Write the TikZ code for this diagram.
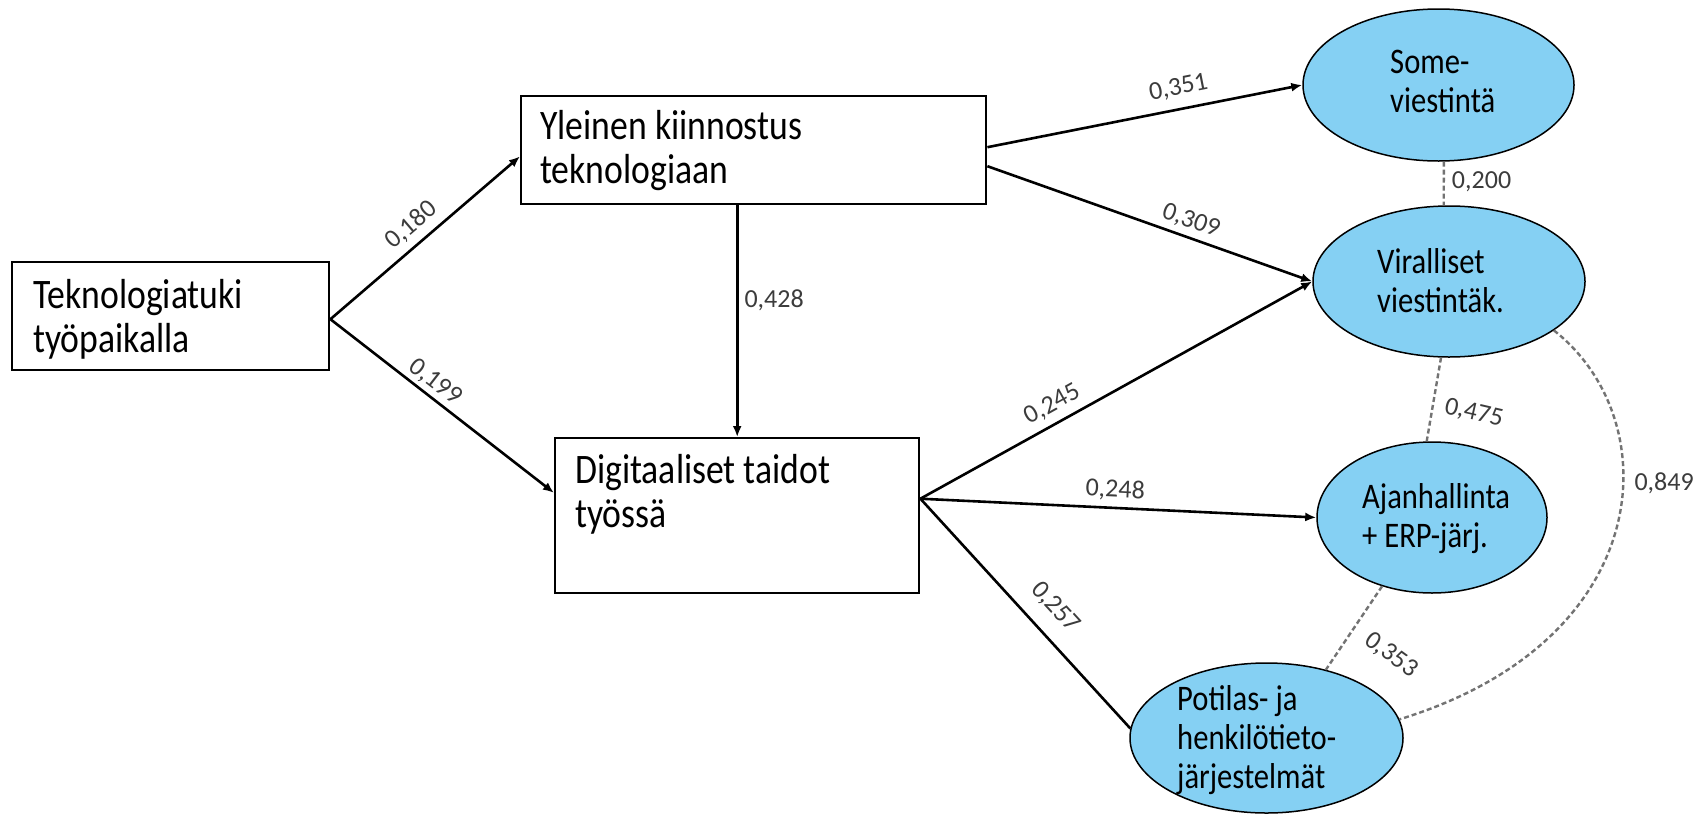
\documentclass[tikz,border=0pt]{standalone}
\usepackage{fontspec}
\usetikzlibrary{shapes.geometric,arrows.meta,calc}
\newfontfamily\nodefont[FakeStretch=0.85]{Carlito}
\newfontfamily\labfont{Carlito}
\definecolor{ellfill}{RGB}{133,208,243}
\definecolor{labgray}{RGB}{60,60,60}
\definecolor{dashgray}{RGB}{115,115,115}
\begin{document}
\begin{tikzpicture}[x=1pt,y=-1pt,
  box/.style={draw, line width=2.4pt, rectangle, inner sep=0pt, anchor=north west},
  ell/.style={draw, line width=1.5pt, ellipse, fill=ellfill, inner sep=0pt},
  btext/.style={anchor=base west, inner sep=0pt, align=left, font=\nodefont\fontsize{42}{44}\selectfont},
  etext/.style={anchor=base west, inner sep=0pt, align=left, font=\nodefont\fontsize{36}{39}\selectfont},
  conn/.style={line width=2.6pt, -{Latex[length=11pt,width=9pt]}},
  plainconn/.style={line width=2.6pt},
  corr/.style={dashgray, line width=2.4pt, dash pattern=on 5pt off 3pt},
  lab/.style={font=\labfont\fontsize{26}{28}\selectfont, text=labgray, inner sep=1pt},
]
\useasboundingbox (0,0) rectangle (1704,814);
\fill[white] (0,0) rectangle (1704,814);

% boxes
\node[box, minimum width=317pt, minimum height=108pt] (tek) at (11,261) {};
\node[box, minimum width=465pt, minimum height=108pt] (yle) at (520,95) {};
\node[box, minimum width=364pt, minimum height=155pt] (dig) at (554,437) {};

% ellipses
\node[ell, minimum width=271pt, minimum height=152pt] (some) at (1438.5,85) {};
\node[ell, minimum width=272pt, minimum height=151pt] (vir) at (1449,281.5) {};
\node[ell, minimum width=230pt, minimum height=151pt] (ajan) at (1432,517.5) {};
\node[ell, minimum width=273pt, minimum height=150pt] (pot) at (1266.5,738) {};

% connectors
\coordinate (tekhub) at ($(tek.east)+(0,3)$);
\coordinate (dighub) at ($(dig.east)+(0,-17)$);
\draw[conn] (tekhub) -- node[lab, pos=0.49, sloped, above=6pt] (l180) {0,180} ($(yle.north west)!0.556!(yle.south west)$);
\draw[conn] (tekhub) -- node[lab, pos=0.43, sloped, above=2pt] (l199) {0,199} ($(dig.north west)!0.355!(dig.south west)$);
\draw[conn] (dig.north |- yle.south) -- node[lab, pos=0.41, right=5pt] (l428) {0,428} (dig.north);
\draw[conn] ($(yle.east)+(0,-3)$) -- node[lab, pos=0.62, sloped, above=9pt] (l351) {0,351} (some.west);
\draw[conn] ($(yle.east)+(0,16)$) -- node[lab, pos=0.61, sloped, above=4pt] (l309) {0,309} (vir.west);
\draw[conn] (dighub) -- node[lab, pos=0.36, sloped, above=6pt] (l245) {0,245} (vir.west);
\draw[conn] (dighub) -- node[lab, pos=0.49, sloped, above=5pt] (l248) {0,248} (ajan.west);
\draw[plainconn] (dighub) -- node[lab, pos=0.55, sloped, above=14pt] (l257) {0,257} (pot.176);

% correlations
\draw[corr] (some.-86.5) -- node[lab, pos=0.45, right=6pt] (l200) {0,200} (vir.94.5);
\draw[corr] (vir.-96) -- node[lab, pos=0.55, anchor=west, rotate=-13, xshift=10pt] (l475) {0,475} (ajan.94);
\draw[corr] (ajan.-126) -- node[lab, pos=0.5, anchor=west, rotate=-36, xshift=14pt] (l353) {0,353} (pot.49);
\draw[corr] (vir.-25) .. controls (1668,420) and (1658,640) .. (pot.8) node[lab, pos=0.4, right=9pt] (l849) {0,849};

% texts (base anchor = baseline of last line)
\node[btext] (tekT) at (33,352) {Teknologiatuki\\työpaikalla};
\node[btext] (yleT) at (540,183) {Yleinen kiinnostus\\teknologiaan};
\node[btext] (digT) at (575,527) {Digitaaliset taidot\\työssä};
\node[etext] (someT) at (1390,112) {Some-\\viestintä};
\node[etext] (virT) at (1377,312) {Viralliset\\viestintäk.};
\node[etext] (ajanT) at (1362,547) {Ajanhallinta\\+ ERP-järj.};
\node[etext] (potT) at (1177,788) {Potilas- ja\\henkilötieto-\\järjestelmät};
\end{tikzpicture}
\end{document}
